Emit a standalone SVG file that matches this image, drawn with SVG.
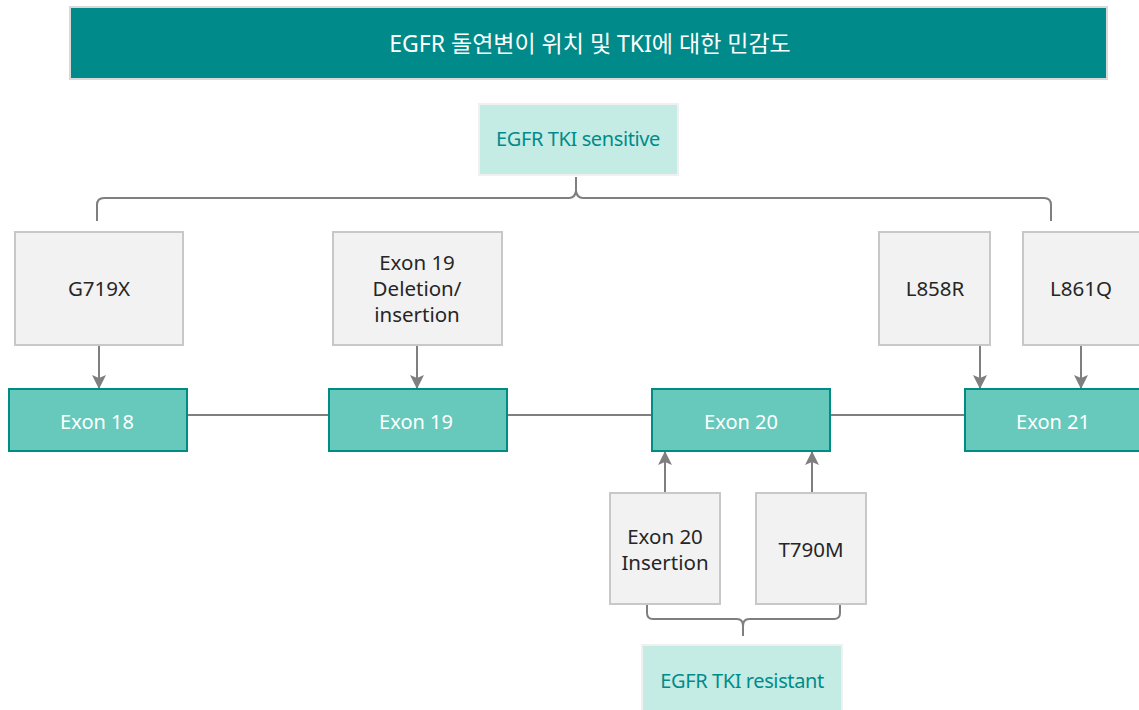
<svg xmlns="http://www.w3.org/2000/svg" width="1139" height="710" viewBox="0 0 1139 710">
  <style>
    text { font-family: "Noto Sans", "Noto Sans CJK KR", sans-serif; text-anchor: middle; dominant-baseline: central; }
    .title-box { fill: #008b8a; stroke: #d9d9d9; stroke-width: 2; }
    .title { fill: #ffffff; font-size: 23px; }
    .group-box { fill: #c5ebe5; stroke: #f0f0f0; stroke-width: 2; }
    .group-label { fill: #008b8a; font-size: 20px; letter-spacing: -0.4px; }
    .mut-box { fill: #f2f2f2; stroke: #c8c8c8; stroke-width: 2; }
    .mut-label { fill: #262626; font-size: 20.5px; }
    .exon-box { fill: #66c9bc; stroke: #008b85; stroke-width: 2; }
    .exon-label { fill: #ffffff; font-size: 20px; }
    .link { fill: none; stroke: #7f7f7f; stroke-width: 2; }
    .brace { fill: none; stroke: #7f7f7f; stroke-width: 2; }
  </style>
  <defs>
    <marker id="arrow" viewBox="0 0 14 14" refX="13" refY="7" markerWidth="14" markerHeight="14" markerUnits="userSpaceOnUse" orient="auto">
      <path d="M0,0 L14,7 L0,14 L3,7 Z" fill="#7f7f7f"/>
    </marker>
  </defs>

  <!-- header banner -->
  <g id="title">
    <rect class="title-box" x="70" y="7" width="1037" height="72"/>
    <text class="title" x="590" y="43">EGFR 돌연변이 위치 및 TKI에 대한 민감도</text>
  </g>

  <!-- connectors: exon backbone, mutation arrows, braces -->
  <g id="connectors">
    <line class="link" x1="187" y1="415" x2="329" y2="415"/>
    <line class="link" x1="507" y1="415" x2="652" y2="415"/>
    <line class="link" x1="830" y1="415" x2="965" y2="415"/>

    <line class="link" x1="99" y1="345" x2="99" y2="388" marker-end="url(#arrow)"/>
    <line class="link" x1="417" y1="345" x2="417" y2="388" marker-end="url(#arrow)"/>
    <line class="link" x1="980" y1="345" x2="980" y2="388" marker-end="url(#arrow)"/>
    <line class="link" x1="1081" y1="345" x2="1081" y2="388" marker-end="url(#arrow)"/>
    <line class="link" x1="665" y1="493" x2="665" y2="452" marker-end="url(#arrow)"/>
    <line class="link" x1="812" y1="493" x2="812" y2="452" marker-end="url(#arrow)"/>

    <!-- sensitive brace -->
    <path class="brace" d="M97,221 L97,205 Q97,198 104,198 L569,198 Q575,198 576,191 L576,177 M576,177 L576,191 Q577,198 583,198 L1044,198 Q1051,198 1051,205 L1051,221"/>
    <!-- resistant brace -->
    <path class="brace" d="M647,604 L647,613 Q647,619 653,619 L737,619 Q743,619 743,626 L743,636 M743,636 L743,626 Q743,619 749,619 L834,619 Q840,619 840,613 L840,604"/>
  </g>

  <g id="sensitive">
    <rect class="group-box" x="479" y="104" width="199" height="71"/>
    <text class="group-label" x="578" y="138">EGFR TKI sensitive</text>
  </g>

  <g id="g719x">
    <rect class="mut-box" x="15" y="232" width="168" height="113"/>
    <text class="mut-label" x="99" y="288">G719X</text>
  </g>
  <g id="exon19-del-ins">
    <rect class="mut-box" x="333" y="232" width="169" height="113"/>
    <text class="mut-label" x="417" y="262">Exon 19</text>
    <text class="mut-label" x="417" y="288">Deletion/</text>
    <text class="mut-label" x="417" y="314">insertion</text>
  </g>
  <g id="l858r">
    <rect class="mut-box" x="879" y="232" width="111" height="113"/>
    <text class="mut-label" x="935" y="288">L858R</text>
  </g>
  <g id="l861q">
    <rect class="mut-box" x="1023" y="232" width="120" height="113"/>
    <text class="mut-label" x="1081" y="288">L861Q</text>
  </g>

  <g id="exon18">
    <rect class="exon-box" x="9" y="389" width="178" height="62"/>
    <text class="exon-label" x="97" y="421">Exon 18</text>
  </g>
  <g id="exon19">
    <rect class="exon-box" x="329" y="389" width="178" height="62"/>
    <text class="exon-label" x="416" y="421">Exon 19</text>
  </g>
  <g id="exon20">
    <rect class="exon-box" x="652" y="389" width="178" height="62"/>
    <text class="exon-label" x="741" y="421">Exon 20</text>
  </g>
  <g id="exon21">
    <rect class="exon-box" x="965" y="389" width="180" height="62"/>
    <text class="exon-label" x="1053" y="421">Exon 21</text>
  </g>

  <g id="exon20-insertion">
    <rect class="mut-box" x="610" y="493" width="110" height="111"/>
    <text class="mut-label" x="665" y="536">Exon 20</text>
    <text class="mut-label" x="665" y="562">Insertion</text>
  </g>
  <g id="t790m">
    <rect class="mut-box" x="756" y="493" width="110" height="111"/>
    <text class="mut-label" x="811" y="549">T790M</text>
  </g>

  <g id="resistant">
    <rect class="group-box" x="642" y="645" width="200" height="70"/>
    <text class="group-label" x="742" y="680">EGFR TKI resistant</text>
  </g>
</svg>
